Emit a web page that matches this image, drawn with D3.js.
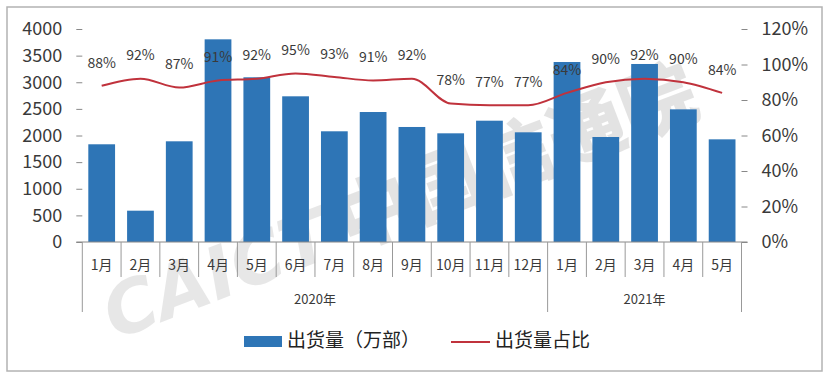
<!DOCTYPE html>
<html><head><meta charset="utf-8">
<script src="https://cdn.jsdelivr.net/npm/d3@7"></script>
<style>
html,body{margin:0;padding:0;background:#fff;}
svg{display:block;font-family:"Noto Sans CJK SC","Noto Sans",sans-serif;}
</style></head>
<body>
<svg id="chart" width="830" height="379"></svg>
<script>
const months = ["1月","2月","3月","4月","5月","6月","7月","8月","9月","10月","11月","12月","1月","2月","3月","4月","5月"];
const years = [{label:"2020年", start:0, end:12},{label:"2021年", start:12, end:17}];
const shipments = [1835,588,1891,3806,3093,2736,2079,2441,2160,2041,2278,2060,3380,1972,3343,2491,1928];
const shares = [88,92,87,91,92,95,93,91,92,78,77,77,84,90,92,90,84];
const leftTicks = [0,500,1000,1500,2000,2500,3000,3500,4000];
const rightTicks = [0,20,40,60,80,100,120];
const seriesNames = ["出货量（万部）","出货量占比"];

const svg = d3.select("#chart");
const x0 = 82.3, x1 = 741.5, yTop = 29, yBot = 242;
const barColor = "#2e75b6", lineColor = "#c0323c", textColor = "#3a3a3a";

svg.append("rect").attr("x",7).attr("y",7).attr("width",815).attr("height",364)
  .attr("fill","#fff").attr("stroke","#b3b3b3").attr("stroke-width",1.5);

const idx = months.map((d,i)=>i);
const x = d3.scaleBand().domain(idx).range([x0,x1]).paddingInner(0.31).paddingOuter(0.155);
const xb = d3.scaleBand().domain(idx).range([x0,x1]);
const yL = d3.scaleLinear().domain([0,4000]).range([yBot,yTop]);
const yR = d3.scaleLinear().domain([0,120]).range([yBot,yTop]);

// watermark
const wm = svg.append("g").attr("transform","translate(115,340) rotate(-21)").attr("opacity",0.2);
wm.append("text").attr("x",0).attr("y",0).attr("font-size",72).attr("font-weight",900)
  .attr("font-style","italic").attr("fill","#8a8a8a").attr("font-family","'DejaVu Sans',sans-serif")
  .text("CAICT");
wm.append("text").attr("x",250).attr("y",0).attr("font-size",76).attr("font-weight",900)
  .attr("fill","#7a7a7a").text("中国信通院");

// bars
svg.append("g").selectAll("rect").data(shipments).join("rect")
  .attr("x",(d,i)=>x(i)).attr("width",x.bandwidth())
  .attr("y",d=>yL(d)).attr("height",d=>yBot-yL(d))
  .attr("fill",barColor);

// left axis
const axL = d3.axisLeft(yL).tickValues(leftTicks).tickSize(6).tickPadding(14).tickFormat(d3.format("d"));
const gL = svg.append("g").attr("transform",`translate(${x0},0)`).call(axL);
gL.select(".domain").remove();
gL.selectAll(".tick line").attr("stroke","#888");
gL.selectAll("text").attr("font-size",18).attr("fill",textColor).attr("font-family","'Noto Sans CJK SC',sans-serif");

// right axis
const axR = d3.axisRight(yR).tickValues(rightTicks).tickSize(6).tickPadding(14).tickFormat(d=>d+"%");
const gR = svg.append("g").attr("transform",`translate(${x1},0)`).call(axR);
gR.select(".domain").remove();
gR.selectAll(".tick line").attr("stroke","#888");
gR.selectAll("text").attr("font-size",18).attr("fill",textColor).attr("font-family","'Noto Sans CJK SC',sans-serif");

// baseline
svg.append("line").attr("x1",x0-6).attr("x2",x1+6).attr("y1",yBot).attr("y2",yBot).attr("stroke","#888");

// category separators
const sep = svg.append("g").attr("stroke","#999").attr("stroke-width",1);
d3.range(months.length+1).forEach(i=>{
  const xx = i<months.length ? xb(i) : x1;
  const long = years.some(y=>y.start===i||y.end===i);
  sep.append("line").attr("x1",xx).attr("x2",xx).attr("y1",yBot).attr("y2",long?312:277);
});
svg.append("g").selectAll("text").data(months).join("text")
  .attr("x",(d,i)=>xb(i)+xb.bandwidth()/2).attr("y",266)
  .attr("text-anchor","middle").attr("dominant-baseline","middle")
  .attr("font-size",14).attr("fill",textColor).text(d=>d);
svg.append("g").selectAll("text").data(years).join("text")
  .attr("x",d=>(xb(d.start)+(d.end<months.length?xb(d.end):x1))/2).attr("y",300)
  .attr("text-anchor","middle").attr("dominant-baseline","middle")
  .attr("font-size",13).attr("fill",textColor).text(d=>d.label);

// line
const line = d3.line().x((d,i)=>xb(i)+xb.bandwidth()/2).y(d=>yR(d)).curve(d3.curveMonotoneX);
svg.append("path").datum(shares).attr("d",line).attr("fill","none")
  .attr("stroke",lineColor).attr("stroke-width",2);
svg.append("g").selectAll("text").data(shares).join("text")
  .attr("x",(d,i)=>xb(i)+xb.bandwidth()/2).attr("y",d=>yR(d)-22)
  .attr("text-anchor","middle").attr("dominant-baseline","middle")
  .attr("font-size",14).attr("fill",textColor).text(d=>d+"%");

// legend
const lg = svg.append("g");
lg.append("rect").attr("x",244).attr("y",336).attr("width",38).attr("height",11).attr("fill",barColor);
lg.append("text").attr("x",287).attr("y",342).attr("dominant-baseline","middle")
  .attr("font-size",19).attr("fill","#222").text(seriesNames[0]);
lg.append("line").attr("x1",451).attr("x2",490).attr("y1",342).attr("y2",342)
  .attr("stroke",lineColor).attr("stroke-width",2);
lg.append("text").attr("x",495).attr("y",342).attr("dominant-baseline","middle")
  .attr("font-size",19).attr("fill","#222").text(seriesNames[1]);
</script>
</body></html>
